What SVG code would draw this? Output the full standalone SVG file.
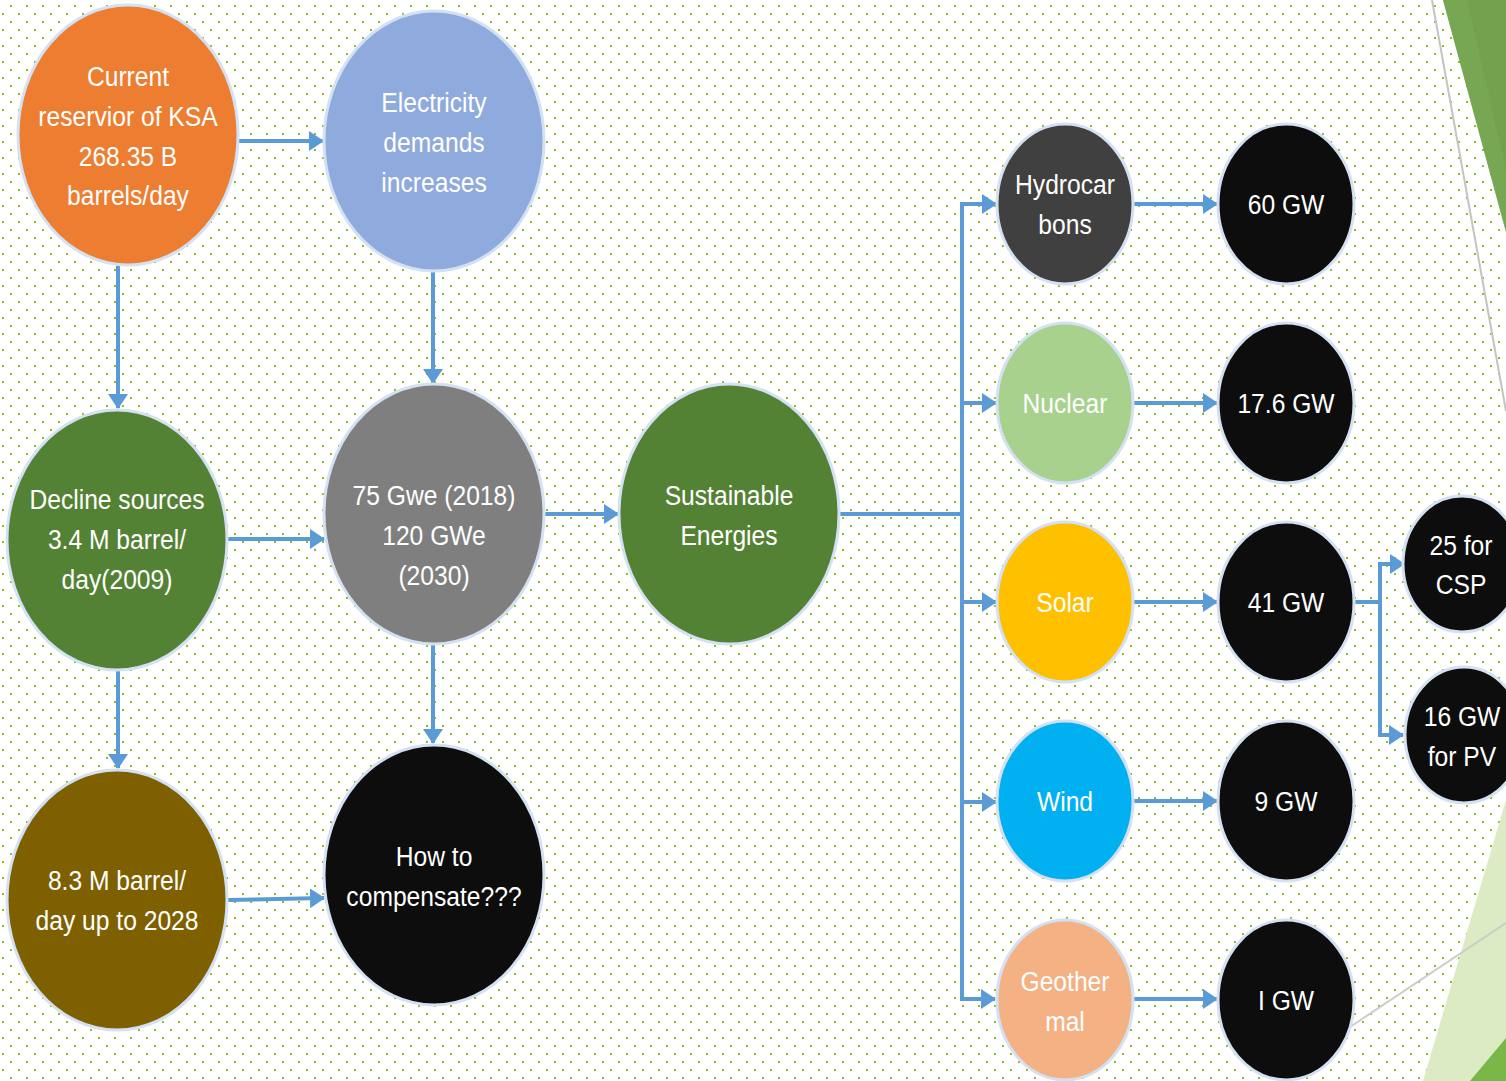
<svg xmlns="http://www.w3.org/2000/svg" width="1506" height="1081" viewBox="0 0 1506 1081">
<defs>
<pattern id="dots" patternUnits="userSpaceOnUse" width="16" height="16">
<rect x="10" y="5" width="2" height="2" fill="#8fbf1f"/>
<rect x="2" y="13" width="2" height="2" fill="#8fbf1f"/>
</pattern>
<marker id="ah" viewBox="0 0 15 20" refX="14" refY="10" markerWidth="3.75" markerHeight="5" orient="auto" markerUnits="strokeWidth">
<path d="M0,0 L15,10 L0,20 z" fill="#5b9bd5"/>
</marker>
</defs>
<style>
.n{stroke:#d3e1f2;stroke-width:3}
.t{font-family:"Liberation Sans",Arial,sans-serif;font-size:28px;fill:#ffffff;text-anchor:middle}
.c{fill:none;stroke:#5b9bd5;stroke-width:4}
</style>
<rect width="1506" height="1081" fill="#ffffff"/>
<rect width="1506" height="1081" fill="url(#dots)"/>
<g id="decor">
<polygon points="1443,0 1506,0 1506,232" fill="#6b9c45" opacity="0.95"/>
<polygon points="1443,0 1467,0 1506,170 1506,232" fill="#7aab55" opacity="0.6"/>
<line x1="1432" y1="0" x2="1506" y2="411" stroke="#c4c4c4" stroke-width="2"/>
<polygon points="1423,1081 1506,800 1506,1081" fill="#dcebc3"/>
<polygon points="1470,1081 1506,1038 1506,1081" fill="#7ab648"/>
<line x1="1350" y1="1027" x2="1506" y2="923" stroke="#cccccc" stroke-width="2"/>
</g>
<g id="connectors">
<line class="c" x1="238" y1="141" x2="323" y2="141" marker-end="url(#ah)"/>
<line class="c" x1="118" y1="265" x2="118" y2="408" marker-end="url(#ah)"/>
<line class="c" x1="433" y1="271" x2="433" y2="383" marker-end="url(#ah)"/>
<line class="c" x1="227" y1="539" x2="324" y2="539" marker-end="url(#ah)"/>
<line class="c" x1="118" y1="670" x2="118" y2="768" marker-end="url(#ah)"/>
<line class="c" x1="544" y1="514" x2="618" y2="514" marker-end="url(#ah)"/>
<line class="c" x1="433" y1="644" x2="433" y2="743" marker-end="url(#ah)"/>
<line class="c" x1="227" y1="900" x2="324" y2="898" marker-end="url(#ah)"/>
<line class="c" x1="839" y1="514" x2="962" y2="514"/>
<polyline class="c" points="995,204 962,204 962,999 995,999" marker-end="url(#ah)"/>
<line class="c" x1="962" y1="204" x2="996" y2="204" marker-end="url(#ah)"/>
<line class="c" x1="962" y1="403" x2="996" y2="403" marker-end="url(#ah)"/>
<line class="c" x1="962" y1="602" x2="996" y2="602" marker-end="url(#ah)"/>
<line class="c" x1="962" y1="802" x2="996" y2="802" marker-end="url(#ah)"/>
<line class="c" x1="1133" y1="204" x2="1217" y2="204" marker-end="url(#ah)"/>
<line class="c" x1="1133" y1="403" x2="1217" y2="403" marker-end="url(#ah)"/>
<line class="c" x1="1133" y1="602" x2="1217" y2="602" marker-end="url(#ah)"/>
<line class="c" x1="1133" y1="801" x2="1217" y2="801" marker-end="url(#ah)"/>
<line class="c" x1="1133" y1="999" x2="1217" y2="999" marker-end="url(#ah)"/>
<line class="c" x1="1354" y1="602" x2="1380" y2="602"/>
<polyline class="c" points="1403,564 1380,564 1380,735 1403,735" marker-end="url(#ah)"/>
<line class="c" x1="1380" y1="564" x2="1404" y2="564" marker-end="url(#ah)"/>
</g>
<g id="n-current"><ellipse class="n" cx="128" cy="135" rx="110" ry="130" fill="#ed7d31"/>
<text class="t" transform="translate(128 86) scale(.88 1)">Current</text><text class="t" transform="translate(128 126) scale(.88 1)">reservior of KSA</text><text class="t" transform="translate(128 166) scale(.88 1)">268.35 B</text><text class="t" transform="translate(128 205) scale(.88 1)">barrels/day</text></g>
<g id="n-electricity"><ellipse class="n" cx="434" cy="141" rx="110" ry="130" fill="#8faadc"/>
<text class="t" transform="translate(434 112) scale(.88 1)">Electricity</text><text class="t" transform="translate(434 152) scale(.88 1)">demands</text><text class="t" transform="translate(434 192) scale(.88 1)">increases</text></g>
<g id="n-decline"><ellipse class="n" cx="117" cy="540" rx="110" ry="130" fill="#548235"/>
<text class="t" transform="translate(117 509) scale(.88 1)">Decline sources</text><text class="t" transform="translate(117 549) scale(.88 1)">3.4 M barrel/</text><text class="t" transform="translate(117 589) scale(.88 1)">day(2009)</text></g>
<g id="n-gwe"><ellipse class="n" cx="434" cy="514" rx="110" ry="130" fill="#7f7f7f"/>
<text class="t" transform="translate(434 505) scale(.88 1)">75 Gwe (2018)</text><text class="t" transform="translate(434 545) scale(.88 1)">120 GWe</text><text class="t" transform="translate(434 585) scale(.88 1)">(2030)</text></g>
<g id="n-sustainable"><ellipse class="n" cx="729" cy="514" rx="110" ry="130" fill="#548235"/>
<text class="t" transform="translate(729 505) scale(.88 1)">Sustainable</text><text class="t" transform="translate(729 545) scale(.88 1)">Energies</text></g>
<g id="n-83"><ellipse class="n" cx="117" cy="900" rx="110" ry="130" fill="#7f6000"/>
<text class="t" transform="translate(117 890) scale(.88 1)">8.3 M barrel/</text><text class="t" transform="translate(117 930) scale(.88 1)">day up to 2028</text></g>
<g id="n-how"><ellipse class="n" cx="434" cy="875" rx="110" ry="130" fill="#0d0d0d"/>
<text class="t" transform="translate(434 866) scale(.88 1)">How to</text><text class="t" transform="translate(434 906) scale(.88 1)">compensate???</text></g>
<g id="n-hydro"><ellipse class="n" cx="1065" cy="204" rx="68" ry="80" fill="#404040"/>
<text class="t" transform="translate(1065 194) scale(.88 1)">Hydrocar</text><text class="t" transform="translate(1065 234) scale(.88 1)">bons</text></g>
<g id="n-nuclear"><ellipse class="n" cx="1065" cy="403" rx="68" ry="80" fill="#a9d18e"/>
<text class="t" transform="translate(1065 413) scale(.88 1)">Nuclear</text></g>
<g id="n-solar"><ellipse class="n" cx="1065" cy="602" rx="68" ry="80" fill="#ffc000"/>
<text class="t" transform="translate(1065 612) scale(.88 1)">Solar</text></g>
<g id="n-wind"><ellipse class="n" cx="1065" cy="801" rx="68" ry="80" fill="#00b0f0"/>
<text class="t" transform="translate(1065 811) scale(.88 1)">Wind</text></g>
<g id="n-geo"><ellipse class="n" cx="1065" cy="1000" rx="68" ry="80" fill="#f4b183"/>
<text class="t" transform="translate(1065 991) scale(.88 1)">Geother</text><text class="t" transform="translate(1065 1031) scale(.88 1)">mal</text></g>
<g id="n-60"><ellipse class="n" cx="1286" cy="204" rx="68" ry="80" fill="#0d0d0d"/>
<text class="t" transform="translate(1286 214) scale(.88 1)">60 GW</text></g>
<g id="n-176"><ellipse class="n" cx="1286" cy="403" rx="68" ry="80" fill="#0d0d0d"/>
<text class="t" transform="translate(1286 413) scale(.88 1)">17.6 GW</text></g>
<g id="n-41"><ellipse class="n" cx="1286" cy="602" rx="68" ry="80" fill="#0d0d0d"/>
<text class="t" transform="translate(1286 612) scale(.88 1)">41 GW</text></g>
<g id="n-9"><ellipse class="n" cx="1286" cy="801" rx="68" ry="80" fill="#0d0d0d"/>
<text class="t" transform="translate(1286 811) scale(.88 1)">9 GW</text></g>
<g id="n-1"><ellipse class="n" cx="1286" cy="1000" rx="68" ry="80" fill="#0d0d0d"/>
<text class="t" transform="translate(1286 1010) scale(.88 1)">I GW</text></g>
<g id="n-csp"><ellipse class="n" cx="1462" cy="564" rx="59" ry="68" fill="#0d0d0d"/>
<text class="t" transform="translate(1461 555) scale(.88 1)">25 for</text><text class="t" transform="translate(1461 594) scale(.88 1)">CSP</text></g>
<g id="n-pv"><ellipse class="n" cx="1464" cy="735" rx="59" ry="68" fill="#0d0d0d"/>
<text class="t" transform="translate(1462 726) scale(.88 1)">16 GW</text><text class="t" transform="translate(1462 766) scale(.88 1)">for PV</text></g>
</svg>
